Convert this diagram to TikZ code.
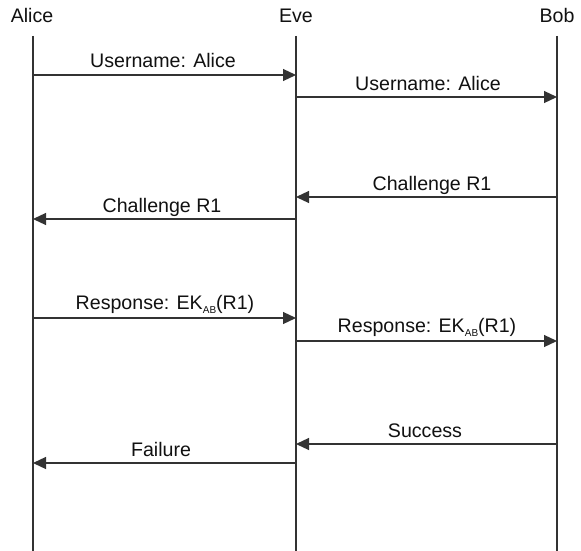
\documentclass[tikz,border=0pt]{standalone}
\usepackage{fontspec}
\setmainfont{Liberation Sans}
\usetikzlibrary{arrows.meta}
\definecolor{ink}{HTML}{111111}
\definecolor{rule}{HTML}{333333}
\newcommand{\subAB}{\raisebox{-4.5pt}{\fontsize{10}{10}\selectfont AB}}
\tikzset{
  actor/.style={font=\fontsize{19.6}{22}\selectfont, text=ink, inner sep=0pt, anchor=base},
  lifeline/.style={draw=rule, line width=1.2pt},
  msg/.style={draw=rule, line width=1.2pt, -{Triangle[length=13pt,width=12pt]}},
  msglabel/.style={font=\fontsize{19.6}{22}\selectfont, text=ink, inner sep=0pt, anchor=base}
}
\begin{document}
\begin{tikzpicture}[x=1pt,y=-1pt]
  \useasboundingbox (0,0) rectangle (581,551);
  \fill[white] (0,0) rectangle (581,551);

  % participants
  \node[actor] (alice) at (32,23) {Alice};
  \node[actor] (eve) at (296,23) {Eve};
  \node[actor] (bob) at (557,23) {Bob};

  % lifeline ends
  \coordinate (aT) at (33,36);  \coordinate (aB) at (33,551);
  \coordinate (eT) at (296,36); \coordinate (eB) at (296,551);
  \coordinate (bT) at (557,36); \coordinate (bB) at (557,551);
  \draw[lifeline] (aT) -- (aB);
  \draw[lifeline] (eT) -- (eB);
  \draw[lifeline] (bT) -- (bB);

  % message anchors on the lifelines
  \coordinate (a1) at (33,75);   \coordinate (e1) at (296,75);
  \coordinate (e2) at (296,97);  \coordinate (b2) at (557,97);
  \coordinate (b3) at (557,197); \coordinate (e3) at (296,197);
  \coordinate (e4) at (296,219); \coordinate (a4) at (33,219);
  \coordinate (a5) at (33,318);  \coordinate (e5) at (296,318);
  \coordinate (e6) at (296,341); \coordinate (b6) at (557,341);
  \coordinate (b7) at (557,444); \coordinate (e7) at (296,444);
  \coordinate (e8) at (296,463); \coordinate (a8) at (33,463);

  % messages
  \draw[msg] (a1) -- (e1);
  \node[msglabel] (l1) at (163,68) {Username: Alice};
  \draw[msg] (e2) -- (b2);
  \node[msglabel] (l2) at (428,90) {Username: Alice};
  \draw[msg] (b3) -- (e3);
  \node[msglabel] (l3) at (432,190) {Challenge R1};
  \draw[msg] (e4) -- (a4);
  \node[msglabel] (l4) at (162,212) {Challenge R1};
  \draw[msg] (a5) -- (e5);
  \node[msglabel] (l5) at (165,309) {Response: EK\subAB(R1)};
  \draw[msg] (e6) -- (b6);
  \node[msglabel] (l6) at (427,332) {Response: EK\subAB(R1)};
  \draw[msg] (b7) -- (e7);
  \node[msglabel] (l7) at (425,437) {Success};
  \draw[msg] (e8) -- (a8);
  \node[msglabel] (l8) at (161,456) {Failure};
\end{tikzpicture}
\end{document}
